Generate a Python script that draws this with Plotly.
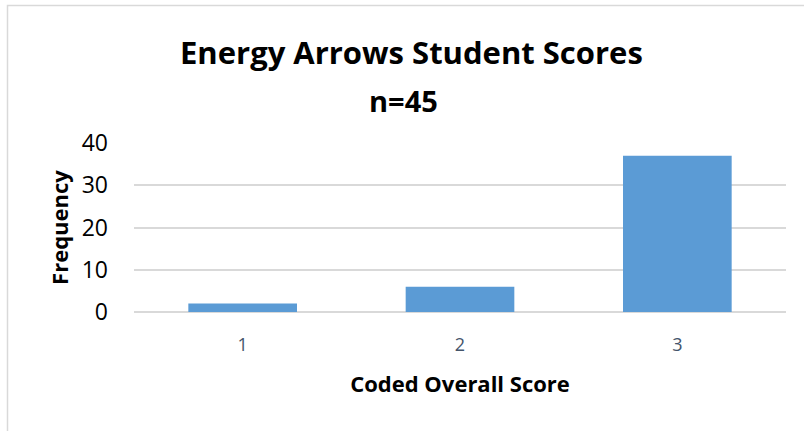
import plotly.graph_objects as go

# Data
scores = ["1", "2", "3"]
frequency = [2, 6, 37]

W, H = 804, 431
L, T = 134, 143
pw, ph = 652, 169
R, B = W - L - pw, H - T - ph

fig = go.Figure()
fig.add_trace(go.Bar(x=scores, y=frequency, marker_color="#5B9BD5",
                     marker_line_width=0, width=0.5))

def px_x(p):
    return (p - L) / pw

def px_y(p):
    return (H - B - p) / ph

fig.update_layout(
    width=W, height=H,
    margin=dict(l=L, r=R, t=T, b=B),
    paper_bgcolor="white", plot_bgcolor="white",
    font=dict(family="Open Sans, sans-serif", color="black"),
    showlegend=False,
    annotations=[
        dict(text="<b>Energy Arrows Student Scores</b>", xref="paper", yref="paper",
             x=px_x(411), y=px_y(52), yanchor="middle", showarrow=False,
             font=dict(size=31)),
        dict(text="<b>n=45</b>", xref="paper", yref="paper",
             x=px_x(403), y=px_y(100), yanchor="middle", showarrow=False,
             font=dict(size=29)),
    ],
    shapes=[
        dict(type="rect", xref="paper", yref="paper",
             x0=px_x(7.5), x1=px_x(820), y0=px_y(440), y1=px_y(5.5),
             line=dict(color="#D9D9D9", width=1.5), layer="above"),
    ],
)
fig.update_xaxes(
    showgrid=False, showline=False, ticks="", ticklabelstandoff=20,
    tickfont=dict(size=18, color="#44546A"),
    title=dict(text="<b>Coded Overall Score</b>", font=dict(size=22), standoff=21),
)
fig.update_yaxes(
    range=[0, 40], dtick=10, showgrid=True, gridcolor="#D9D9D9", gridwidth=1.5,
    zeroline=True, zerolinecolor="#D9D9D9", zerolinewidth=1.5,
    ticks="", ticklabelstandoff=25,
    tickfont=dict(size=23, color="black"),
    title=dict(text="<b>Frequency</b>", font=dict(size=22), standoff=6),
)

# drop the default 8px body margin so the figure fills the window
fig.write_html("out.html", config={"displayModeBar": False},
               post_script="document.body.style.margin = '0';")
